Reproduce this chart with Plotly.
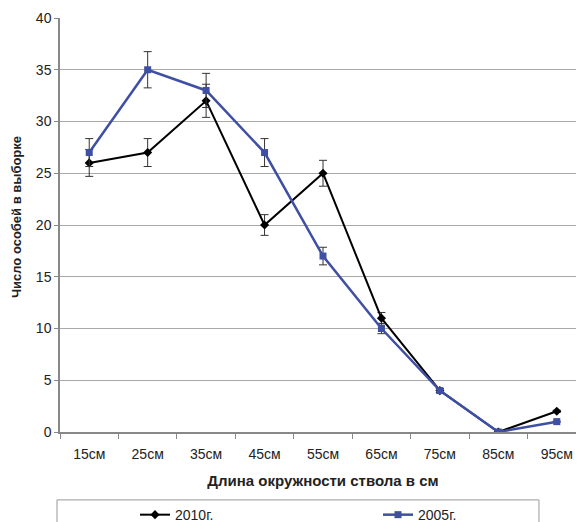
import plotly.graph_objects as go

categories = ["15см", "25см", "35см", "45см", "55см", "65см", "75см", "85см", "95см"]
y2010 = [26, 27, 32, 20, 25, 11, 4, 0, 2]
y2005 = [27, 35, 33, 27, 17, 10, 4, 0, 1]
err_pct = 5

FONT = "Liberation Sans, Arial, sans-serif"
BLUE = "#3F4FA3"

fig = go.Figure()
fig.add_trace(go.Scatter(
    x=categories, y=y2010, name="2010г.", mode="lines+markers",
    line=dict(color="black", width=2),
    marker=dict(symbol="diamond", size=7, color="black"),
    error_y=dict(type="percent", value=err_pct, color="#333", thickness=1, width=4),
))
fig.add_trace(go.Scatter(
    x=categories, y=y2005, name="2005г.", mode="lines+markers",
    line=dict(color=BLUE, width=2.5),
    marker=dict(symbol="square", size=7, color=BLUE),
    error_y=dict(type="percent", value=err_pct, color="#333", thickness=1, width=4),
))

fig.update_layout(
    width=584, height=522,
    margin=dict(l=52, r=6, t=10, b=98, autoexpand=False),
    paper_bgcolor="white", plot_bgcolor="white",
    font=dict(family=FONT, size=14, color="#222"),
    showlegend=True,
    legend=dict(orientation="h", x=0.1426, y=-0.162, xanchor="left", yanchor="top",
                entrywidth=198, entrywidthmode="pixels",
                font=dict(size=14, color="#222"), bgcolor="rgba(0,0,0,0)",
                itemwidth=30),
    shapes=[dict(type="rect", xref="paper", yref="paper",
                 x0=-0.0057, x1=0.9106, y0=-0.25, y1=-0.164,
                 line=dict(color="#999", width=1), fillcolor="rgba(0,0,0,0)")],
    annotations=[dict(text="<b>Число особей в выборке</b>", textangle=-90,
                      xref="paper", yref="paper", x=-0.0837, y=0.519,
                      xanchor="center", yanchor="middle", showarrow=False,
                      font=dict(size=13, color="#222"))],
)
fig.update_xaxes(
    type="category", range=[-0.5, 8.5],
    showline=True, linecolor="#888", linewidth=1.5,
    ticks="outside", tickson="boundaries", ticklen=5, tickcolor="#888",
    ticklabelstandoff=8,
    showgrid=False, automargin=False,
    title=dict(text="<b>Длина окружности ствола в см</b>", font=dict(size=15), standoff=15),
)
fig.update_yaxes(
    range=[0, 40], dtick=5,
    showline=True, linecolor="#888", linewidth=1.5,
    ticks="outside", ticklen=4, tickcolor="#888",
    showgrid=True, gridcolor="#a8a8a8", gridwidth=1,
    zeroline=False, automargin=False,
)

fig.write_html("out.html")
